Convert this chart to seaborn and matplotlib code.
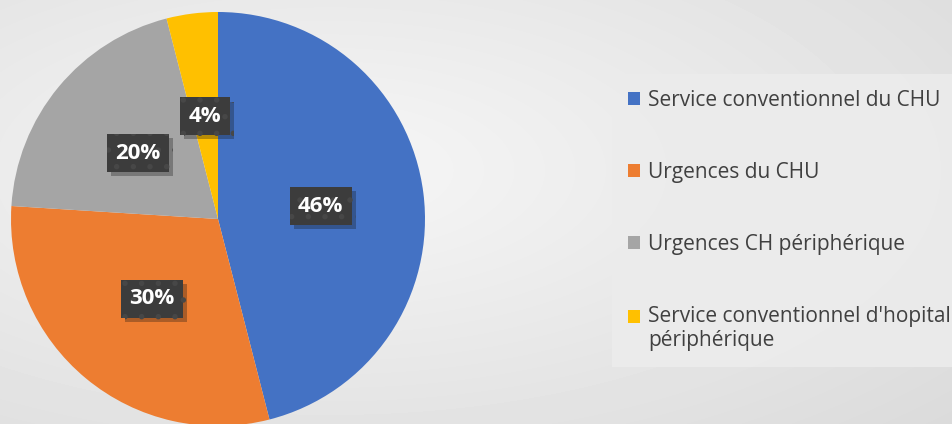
import numpy as np
import matplotlib
matplotlib.use('Agg')
import matplotlib.pyplot as plt
import matplotlib.patheffects as pe
from matplotlib.patches import Patch, Rectangle
from matplotlib.legend_handler import HandlerPatch
import seaborn as sns

# Data
categories = ['Service conventionnel du CHU',
              'Urgences du CHU',
              'Urgences CH périphérique',
              "Service conventionnel d'hopital\npériphérique"]
shares = [46, 30, 20, 4]
colors = ['#4472C4', '#ED7D31', '#A5A5A5', '#FFC000']

sns.set_theme(style='white')
plt.rcParams['font.family'] = ['Open Sans', 'DejaVu Sans']
plt.rcParams['hatch.linewidth'] = 1.5

W, H = 953, 424
fig = plt.figure(figsize=(W / 100, H / 100), dpi=100)

# soft radial grey background
bg = fig.add_axes([0, 0, 1, 1])
yy, xx = np.mgrid[0:H, 0:W]
d = np.sqrt(((xx - 330) / W) ** 2 + ((yy - 170) / H) ** 2)
shade = 0.965 - 0.11 * np.clip(d / 0.9, 0, 1)
bg.imshow(shade, cmap='gray', vmin=0, vmax=1, aspect='auto', extent=[0, 1, 0, 1])
bg.set_axis_off()

# pie axes: center (218, 219) px, radius 207 px
r = 207
ax = fig.add_axes([(218 - r) / W, (H - 219 - r) / H, 2 * r / W, 2 * r / H])
ax.set_facecolor('none')

wedges, texts, autotexts = ax.pie(
    shares, colors=colors, startangle=90, counterclock=False,
    autopct='%d%%', pctdistance=0.5, radius=1,
    wedgeprops=dict(linewidth=0),
    textprops=dict(color='white', fontsize=16, fontweight='bold'),
)
for t in autotexts:
    t.set_bbox(dict(boxstyle='square,pad=0.38', facecolor='#3c3c3c',
                    edgecolor='#474747', linewidth=0, hatch='.'))
    t.get_bbox_patch().set_path_effects([
        pe.SimplePatchShadow(offset=(3, -3), alpha=0.3), pe.Normal()])
ax.set_xlim(-1, 1)
ax.set_ylim(-1, 1)
ax.set_aspect('equal')


# the two-line entry keeps its marker next to the first line
def first_line_patch(legend, orig_handle, xdescent, ydescent, width, height, fontsize):
    return Rectangle((-xdescent, -ydescent + 0.6 * fontsize), width, height)


handles = [Patch(facecolor=c, edgecolor='none') for c in colors]
leg = fig.legend(handles, categories, loc='upper left',
                 bbox_to_anchor=(612 / W, 1 - 74 / H),
                 fontsize=15, labelspacing=2.45, handlelength=0.6,
                 handleheight=0.6, handletextpad=0.4, borderpad=0.75,
                 frameon=True, fancybox=False, borderaxespad=0,
                 handler_map={handles[3]: HandlerPatch(patch_func=first_line_patch)})
leg.get_frame().set_facecolor('#ececec')
leg.get_frame().set_edgecolor('none')
leg.get_frame().set_alpha(0.9)
for t in leg.get_texts():
    t.set_color('#404040')

fig.savefig('out.png', dpi=100)
